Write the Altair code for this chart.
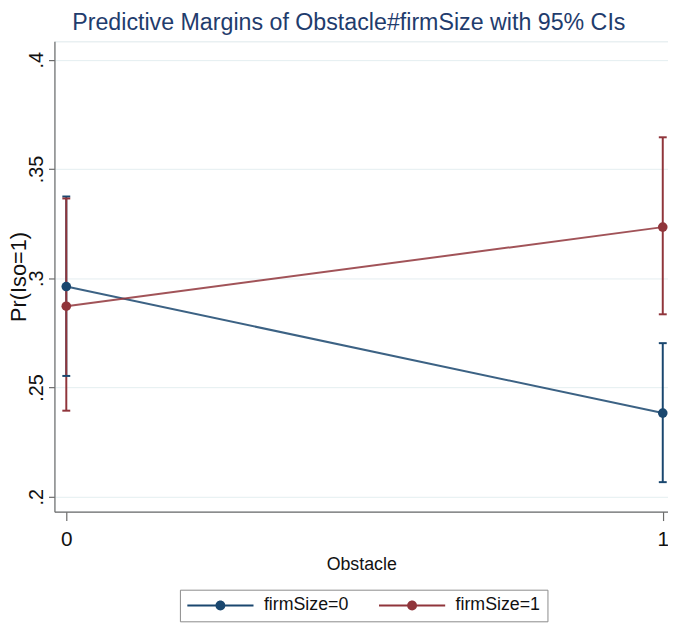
import altair as alt
import pandas as pd

# ---- data ----
obstacle = [0, 1]
series_names = ["firmSize=0", "firmSize=1"]
margin_firm0 = [0.2962, 0.2383]
lo_firm0 = [0.2553, 0.2067]
hi_firm0 = [0.3374, 0.2703]
margin_firm1 = [0.2872, 0.3234]
lo_firm1 = [0.2394, 0.2835]
hi_firm1 = [0.3365, 0.3645]

y_ticks = [0.2, 0.25, 0.3, 0.35, 0.4]
y_tick_labels = [".2", ".25", ".3", ".35", ".4"]
x_ticks = [0, 1]

colors = ["#1a476f", "#90353b"]

rows = []
for i, x in enumerate(obstacle):
    rows.append({"obstacle": x, "series": series_names[0], "margin": margin_firm0[i],
                 "lo": lo_firm0[i], "hi": hi_firm0[i]})
for i, x in enumerate(obstacle):
    rows.append({"obstacle": x, "series": series_names[1], "margin": margin_firm1[i],
                 "lo": lo_firm1[i], "hi": hi_firm1[i]})
df = pd.DataFrame(rows)
# separate grouping field for marks that should not take part in the legend
df["grp"] = df["series"]

y_label_expr = " : ".join(
    f"abs(datum.value - {v}) < 1e-6 ? '{l}'" for v, l in zip(y_ticks, y_tick_labels)
) + " : ''"

FONT = "Liberation Sans"

x_enc = alt.X(
    "obstacle:Q",
    scale=alt.Scale(domain=[-0.01988, 1.00878], nice=False, zero=False),
    axis=alt.Axis(values=x_ticks, format="d", title="Obstacle", grid=False,
                  labelFontSize=21, titleFontSize=18, tickSize=9, labelPadding=8,
                  titlePadding=7, titleFontWeight="normal", labelFlush=False),
)
y_scale = alt.Scale(domain=[0.1932, 0.4084], nice=False, zero=False)
y_axis = alt.Axis(values=y_ticks, labelExpr=y_label_expr, title="Pr(Iso=1)",
                  labelAngle=270, labelAlign="center", labelBaseline="alphabetic",
                  labelFontSize=20, titleFontSize=22, tickSize=6, labelPadding=6,
                  titleX=-36.5, titleY=238, titleBaseline="middle", titleAlign="center",
                  titleAngle=270, titleFontWeight="normal", grid=True)

# legend scale (explicit domain) and a data-driven scale for the other marks,
# so that the legend is not merged with the disabled ones
color_scale = alt.Scale(domain=series_names, range=colors)
grp_scale = alt.Scale(range=colors)

# legend glyph: line segments (thin filled bars) with a dot in the middle
legend_path = ("M-3.94,-0.118H-0.58V0.118H-3.94Z"
               "M0.58,-0.118H3.94V0.118H0.58Z"
               "M0.59,0A0.59,0.59,0,1,1,-0.59,0A0.59,0.59,0,1,1,0.59,0Z")
legend = alt.Legend(
    title=None, orient="none", legendX=127, legendY=555, direction="horizontal",
    columns=2, symbolType=legend_path, symbolSize=289, symbolStrokeWidth=0,
    symbolOffset=25, labelOffset=35,
    labelFontSize=18, labelColor="#111111",
    columnPadding=30, padding=7, strokeColor="#8a8a8a", fillColor="white",
    labelLimit=300, symbolOpacity=1,
)

base = alt.Chart(df)

rules = base.mark_rule(strokeWidth=2).encode(
    x=x_enc,
    y=alt.Y("lo:Q", scale=y_scale, axis=y_axis),
    y2="hi:Q",
    stroke=alt.Stroke("grp:N", scale=grp_scale, legend=None),
)
caps_lo = base.mark_tick(orient="horizontal", size=8, thickness=2, opacity=1).encode(
    x=x_enc,
    y=alt.Y("lo:Q", scale=y_scale, axis=y_axis),
    fill=alt.Fill("grp:N", scale=grp_scale, legend=None),
)
caps_hi = base.mark_tick(orient="horizontal", size=8, thickness=2, opacity=1).encode(
    x=x_enc,
    y=alt.Y("hi:Q", scale=y_scale, axis=y_axis),
    fill=alt.Fill("grp:N", scale=grp_scale, legend=None),
)
lines = base.mark_line(strokeWidth=2, opacity=0.85).encode(
    x=x_enc,
    y=alt.Y("margin:Q", scale=y_scale, axis=y_axis),
    stroke=alt.Stroke("grp:N", scale=grp_scale, legend=None),
)
points = base.mark_point(filled=True, size=95, opacity=1).encode(
    x=x_enc,
    y=alt.Y("margin:Q", scale=y_scale, axis=y_axis),
    color=alt.Color("series:N", scale=color_scale, legend=legend),
)

chart = alt.layer(rules, caps_lo, caps_hi, lines, points).properties(
    width=621,
    height=476,
    autosize=alt.AutoSizeParams(type="none"),
    padding={"left": 47, "top": 30, "right": 0, "bottom": 113},
    title=alt.Title(
        "Predictive Margins of Obstacle#firmSize with 95% CIs",
        anchor="start", frame="group", dx=18, fontSize=23.5,
        fontWeight="normal", color="#1f3c6d", offset=7,
    ),
).configure(
    font=FONT,
    background="white",
).configure_view(
    stroke="#dde8eb", strokeWidth=1,
).configure_axis(
    domainColor="#6b6b6b", tickColor="#6b6b6b", gridColor="#e4eef0",
    labelColor="#111111", titleColor="#111111",
    domainWidth=1.2, tickWidth=1.2,
)

chart.save("out.html", embed_options={"renderer": "svg", "actions": False})
